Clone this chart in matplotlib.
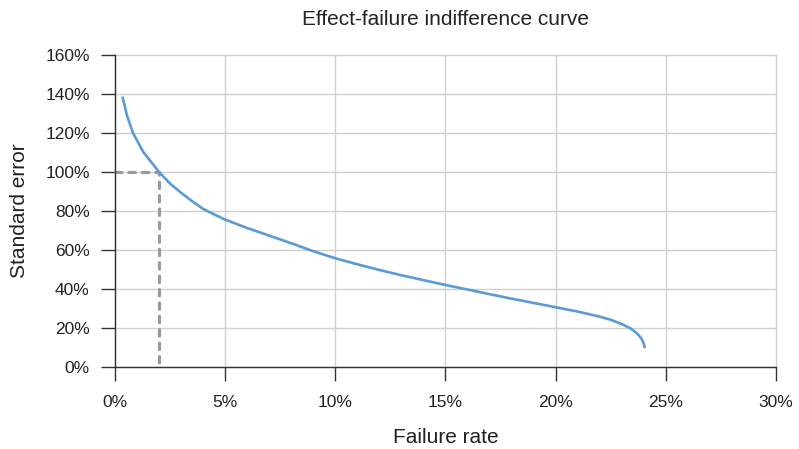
import matplotlib
matplotlib.use("Agg")
import matplotlib.pyplot as plt
from matplotlib.ticker import PercentFormatter

# curve (failure rate %, standard error %)
failure_rate = [0.35, 0.55, 0.82, 1.3, 2.0, 2.5, 3.0, 3.5, 4.0, 4.5, 5.0, 6.0,
                7.0, 8.0, 9.0, 10.0, 11.0, 12.0, 13.0, 14.0, 15.0, 16.0, 17.0,
                18.0, 19.0, 20.0, 21.0, 22.0, 22.5, 23.0, 23.4, 23.7, 23.9,
                24.0, 24.05]
std_error = [138.5, 129.0, 120.0, 110.0, 100.0, 94.0, 89.3, 85.0, 81.0, 78.2,
             75.5, 71.2, 67.3, 63.4, 59.3, 55.7, 52.6, 49.7, 47.0, 44.5, 42.0,
             39.7, 37.3, 35.0, 32.8, 30.6, 28.4, 25.8, 24.2, 22.0, 19.8, 17.2,
             14.5, 12.0, 9.6]

# reference point marked with dashed guides
ref_x, ref_y = 2.0, 100.0

plt.rcParams["font.family"] = ["Liberation Sans", "DejaVu Sans"]

fig = plt.figure(figsize=(7.99, 4.49), dpi=100)
ax = fig.add_axes([0.1436, 0.1826, 0.8276, 0.6960])

ax.plot(failure_rate, std_error, color="#5b9bd5", lw=1.9,
        solid_capstyle="butt", solid_joinstyle="round", zorder=3)
ax.plot([0, ref_x, ref_x], [ref_y, ref_y, 0], color="#9a9a9a", lw=2.3,
        ls=(0, (2.0, 2.2)), dash_capstyle="round", zorder=2, clip_on=False)

ax.set_xlim(0, 30)
ax.set_ylim(0, 160)
ax.set_xticks(range(0, 31, 5))
ax.set_yticks(range(0, 161, 20))
ax.xaxis.set_major_formatter(PercentFormatter(decimals=0))
ax.yaxis.set_major_formatter(PercentFormatter(decimals=0))
ax.grid(True, color="#d0d0d0", lw=1.0)
ax.set_axisbelow(True)
# edge gridlines (30%, 160%) are drawn in full in the reference
for gl in ax.get_xgridlines() + ax.get_ygridlines():
    gl.set_clip_on(False)

for side in ("top", "right"):
    ax.spines[side].set_visible(False)
for side in ("left", "bottom"):
    ax.spines[side].set_color("#333333")
    ax.spines[side].set_linewidth(1.0)

ax.tick_params(axis="both", direction="out", length=10, width=1.0, color="#333333",
               labelsize=12.5, labelcolor="#222222")
ax.tick_params(axis="x", pad=10)
ax.tick_params(axis="y", pad=8)

ax.set_title("Effect-failure indifference curve", fontsize=15, color="#222222", pad=21)
ax.set_xlabel("Failure rate", fontsize=15, color="#222222", labelpad=13)
ax.set_ylabel("Standard error", fontsize=15, color="#222222", labelpad=12)

fig.savefig("out.png", dpi=100)
